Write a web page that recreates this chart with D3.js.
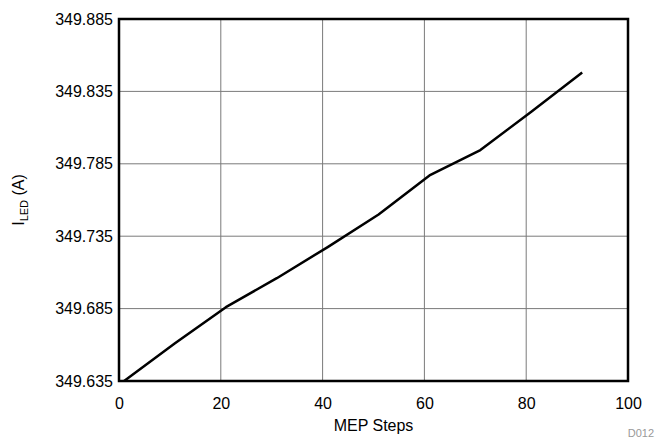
<!DOCTYPE html>
<html lang="en">
<head>
<meta charset="UTF-8">
<title>ILED vs MEP Steps</title>
<style>
  body { margin: 0; background: #fff; }
  text { font-family: "Liberation Sans", Arial, sans-serif; fill: #000; }
  .grid line { stroke: #7a7a7a; stroke-width: 1; }
  .axis path, .axis line { display: none; }
  .axis text { font-size: 16px; }
</style>
</head>
<body>
<svg id="chart" width="659" height="440"></svg>
<script src="https://d3js.org/d3.v7.min.js"></script>
<script>
// values
var steps = [1, 11, 21, 31, 41, 51, 61, 71, 81, 91];
var current = [349.635, 349.661, 349.686, 349.706, 349.7275, 349.750, 349.777, 349.7945, 349.821, 349.848];
var xTicks = [0, 20, 40, 60, 80, 100];
var yTicks = [349.635, 349.685, 349.735, 349.785, 349.835, 349.885];

// plot box (window.top is reserved, so no "top" here)
var pLeft = 119, pRight = 628, pTop = 19, pBottom = 381;

var svg = d3.select("#chart");

var x = d3.scaleLinear().domain([0, 100]).range([pLeft, pRight]);
var y = d3.scaleLinear().domain([349.635, 349.885]).range([pBottom, pTop]);

// grid
var grid = svg.append("g").attr("class", "grid");
grid.selectAll(".gx").data(xTicks.slice(1, -1)).enter().append("line")
    .attr("x1", function(d) { return x(d); }).attr("x2", function(d) { return x(d); })
    .attr("y1", pTop).attr("y2", pBottom);
grid.selectAll(".gy").data(yTicks.slice(1, -1)).enter().append("line")
    .attr("y1", function(d) { return y(d); }).attr("y2", function(d) { return y(d); })
    .attr("x1", pLeft).attr("x2", pRight);

// axes (labels only)
svg.append("g").attr("class", "axis")
    .attr("transform", "translate(0," + (pBottom + 7) + ")")
    .call(d3.axisBottom(x).tickValues(xTicks).tickSize(0).tickPadding(10).tickFormat(d3.format("d")));

svg.append("g").attr("class", "axis")
    .attr("transform", "translate(" + (pLeft - 6) + ",0)")
    .call(d3.axisLeft(y).tickValues(yTicks).tickSize(0).tickPadding(0).tickFormat(d3.format(".3f")));

// frame
svg.append("rect")
    .attr("x", pLeft).attr("y", pTop)
    .attr("width", pRight - pLeft).attr("height", pBottom - pTop)
    .attr("fill", "none").attr("stroke", "#000").attr("stroke-width", 2.5);

// data line
var line = d3.line()
    .x(function(d, i) { return x(steps[i]); })
    .y(function(d) { return y(d); });

svg.append("path")
    .datum(current)
    .attr("d", line)
    .attr("fill", "none")
    .attr("stroke", "#000")
    .attr("stroke-width", 2.5)
    .attr("stroke-linejoin", "round");

// titles
svg.append("text")
    .attr("x", (pLeft + pRight) / 2).attr("y", 431)
    .attr("text-anchor", "middle")
    .style("font-size", "16px")
    .text("MEP Steps");

var yt = svg.append("text")
    .attr("transform", "translate(24," + ((pTop + pBottom) / 2) + ") rotate(-90)")
    .attr("text-anchor", "middle")
    .style("font-size", "16px");
yt.append("tspan").text("I");
yt.append("tspan").attr("dy", 4).style("font-size", "11px").text("LED");
yt.append("tspan").attr("dy", -4).text(" (A)");

svg.append("text")
    .attr("x", 654).attr("y", 437)
    .attr("text-anchor", "end")
    .style("font-size", "11px")
    .style("fill", "#999")
    .text("D012");
</script>
</body>
</html>
